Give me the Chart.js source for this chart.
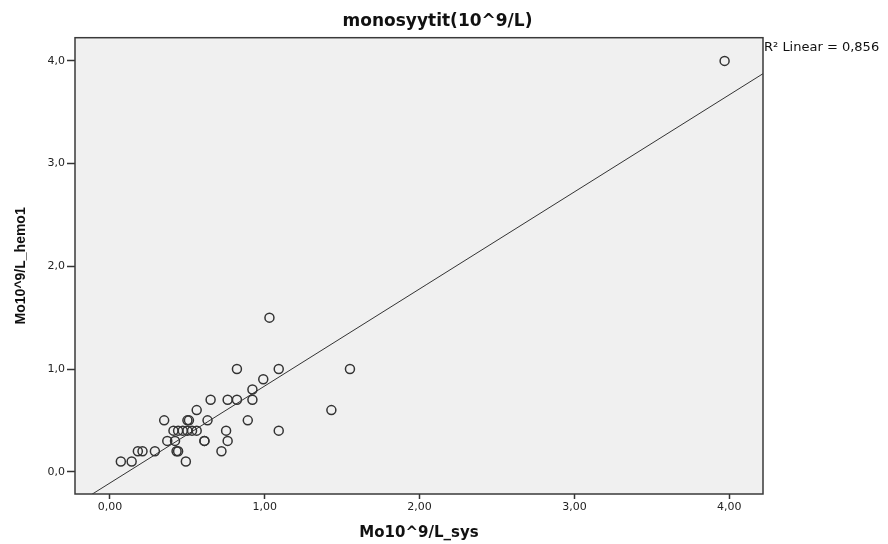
<!DOCTYPE html>
<html>
<head>
<meta charset="utf-8">
<script src="https://cdn.jsdelivr.net/npm/chart.js@4"></script>
<style>
  html, body { margin: 0; padding: 0; background: #fff; }
  #wrap { width: 888px; height: 544px; }
</style>
</head>
<body>
<div id="wrap"><canvas id="chart" width="888" height="544"></canvas></div>
<script>
// values
const xSys = [0.07, 0.14, 0.49,
  0.18, 0.21, 0.29, 0.43, 0.44, 0.72,
  0.37, 0.42, 0.61, 0.61, 0.76,
  0.41, 0.44, 0.47, 0.50, 0.53, 0.56, 0.75, 1.09,
  0.35, 0.50, 0.51, 0.63, 0.89,
  0.56, 1.43,
  0.65, 0.76, 0.82, 0.92,
  0.92, 0.99,
  0.82, 1.09, 1.55,
  1.03, 3.97]
const yHemo = [0.1, 0.1, 0.1,
  0.2, 0.2, 0.2, 0.2, 0.2, 0.2,
  0.3, 0.3, 0.3, 0.3, 0.3,
  0.4, 0.4, 0.4, 0.4, 0.4, 0.4, 0.4, 0.4,
  0.5, 0.5, 0.5, 0.5, 0.5,
  0.6, 0.6,
  0.7, 0.7, 0.7, 0.7,
  0.8, 0.9,
  1.0, 1.0, 1.0,
  1.5, 4.0]
const xTicks = [0, 1, 2, 3, 4]
const yTicks = [0, 1, 2, 3, 4]
const chartTitle = "monosyytit(10^9/L)"
const xTitle = "Mo10^9/L_sys"
const yTitle = "Mo10^9/L_hemo1"
const r2Label = "R² Linear = 0,856"

const xMin = -0.226, xMax = 4.218
const yMin = -0.217, yMax = 4.226

// least squares fit line
const n = xSys.length
const mx = xSys.reduce((a, b) => a + b, 0) / n
const my = yHemo.reduce((a, b) => a + b, 0) / n
let sxy = 0, sxx = 0
for (let i = 0; i < n; i++) {
  sxy += (xSys[i] - mx) * (yHemo[i] - my)
  sxx += (xSys[i] - mx) ** 2
}
const slope = sxy / sxx
const icept = my - slope * mx

const points = xSys.map((x, i) => ({ x: x, y: yHemo[i] }))
const fitLine = [xMin, xMax].map(x => ({ x: x, y: icept + slope * x }))

const frame = {
  id: "frame",
  beforeDraw(chart) {
    const { ctx, chartArea: a } = chart
    ctx.save()
    ctx.fillStyle = "#f0f0f0"
    ctx.fillRect(a.left, a.top, a.right - a.left, a.bottom - a.top)
    ctx.restore()
  },
  afterDraw(chart) {
    const { ctx, chartArea: a } = chart
    ctx.save()
    ctx.strokeStyle = "#3a3a3a"
    ctx.lineWidth = 1.5
    ctx.strokeRect(a.left, a.top, a.right - a.left, a.bottom - a.top)
    ctx.fillStyle = "#111"
    ctx.font = "13px 'DejaVu Sans', sans-serif"
    ctx.textBaseline = "middle"
    ctx.fillText(r2Label, a.right + 1, a.top + 10)
    ctx.restore()
  }
}

const tickFont = { family: "'DejaVu Sans', sans-serif", size: 11 }

new Chart(document.getElementById("chart"), {
  type: "scatter",
  data: {
    datasets: [
      {
        data: points,
        pointStyle: "circle",
        pointRadius: 4.5,
        pointBorderWidth: 1.5,
        borderColor: "#333",
        backgroundColor: "rgba(0,0,0,0)",
        order: 1
      },
      {
        type: "line",
        data: fitLine,
        borderColor: "#333",
        borderWidth: 1,
        pointRadius: 0,
        fill: false,
        order: 2
      }
    ]
  },
  options: {
    responsive: false,
    animation: false,
    events: [],
    layout: { padding: { left: 0, right: 13, top: 0, bottom: 0 } },
    plugins: {
      legend: { display: false },
      tooltip: { enabled: false },
      title: {
        display: true,
        text: chartTitle,
        color: "#111",
        font: { family: "'DejaVu Sans', sans-serif", size: 17, weight: "bold" },
        padding: { top: 11, bottom: 6.3 }
      }
    },
    scales: {
      x: {
        type: "linear",
        min: xMin,
        max: xMax,
        afterFit: s => { s.height = 50 },
        afterBuildTicks: s => { s.ticks = xTicks.map(v => ({ value: v })) },
        grid: { drawOnChartArea: false, drawTicks: true, tickLength: 5, tickColor: "#333", tickWidth: 1.5 },
        border: { display: false },
        ticks: {
          color: "#222",
          font: tickFont,
          padding: 2,
          maxRotation: 0,
          callback: v => v.toFixed(2).replace(".", ",")
        },
        title: {
          display: true, text: xTitle, color: "#111",
          font: { family: "'DejaVu Sans', sans-serif", size: 15, weight: "bold" },
          padding: { top: 0, bottom: 2 }
        }
      },
      y: {
        type: "linear",
        min: yMin,
        max: yMax,
        afterFit: s => { s.width = 75 },
        afterBuildTicks: s => { s.ticks = yTicks.map(v => ({ value: v })) },
        grid: { drawOnChartArea: false, drawTicks: true, tickLength: 8, tickColor: "#333", tickWidth: 1.5 },
        border: { display: false },
        ticks: {
          color: "#222",
          font: tickFont,
          padding: 2,
          callback: v => v.toFixed(1).replace(".", ",")
        },
        title: {
          display: true, text: yTitle, color: "#111",
          font: { family: "'Liberation Sans', Arial, sans-serif", size: 14, weight: "bold" },
          padding: { top: 13, bottom: 0 }
        }
      },
      y2: {
        type: "linear",
        position: "right",
        afterFit: s => { s.width = 112 },
        grid: { display: false },
        border: { display: false },
        ticks: { display: false }
      }
    }
  },
  plugins: [frame]
})
</script>
</body>
</html>
